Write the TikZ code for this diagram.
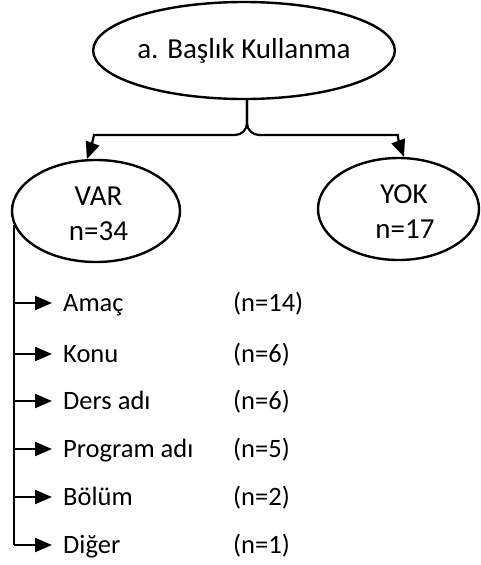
\documentclass[tikz,border=0pt]{standalone}
\usepackage{fontspec}
\setmainfont{Carlito}
\usetikzlibrary{shapes.geometric,arrows.meta}
\tikzset{
  oval/.style={ellipse, draw, line width=2.4pt, inner sep=0pt},
  ovaltext/.style={anchor=base, inner sep=0pt, font=\fontsize{29}{35}\selectfont},
  conn/.style={line width=2.2pt, rounded corners=12pt,
    -{Triangle[length=17pt,width=14pt]}},
  itemarrow/.style={line width=2.2pt, -{Triangle[length=17pt,width=14pt]}},
  stemline/.style={line width=1.5pt},
  itemtext/.style={anchor=west, inner xsep=11pt, inner ysep=0pt,
    text height=17pt, text depth=0pt, font=\fontsize{26.5}{32}\selectfont},
  counttext/.style={anchor=west, inner sep=0pt,
    text height=17pt, text depth=0pt, font=\fontsize{26.5}{32}\selectfont},
}
\begin{document}
\begin{tikzpicture}[x=1pt,y=-1pt]
\useasboundingbox[fill=white] (0,0) rectangle (480,565);

\node[oval, minimum width=272pt, minimum height=97pt, align=center,
  font=\fontsize{29}{35}\selectfont] (top) at (244,50.5) {a. Başlık Kullanma};
\node[oval, minimum width=168pt, minimum height=102pt] (var) at (96,211) {};
\node[oval, minimum width=161pt, minimum height=102pt] (yok) at (398.5,209) {};

\node[ovaltext] (var1) at (98.5,205) {VAR};
\node[ovaltext] (var2) at (98.5,240) {n=34};
\node[ovaltext] (yok1) at (404,203) {YOK};
\node[ovaltext] (yok2) at (405,238) {n=17};

\coordinate (stem) at (247,99);
\coordinate (j) at (247,135);
\coordinate (jl) at (106,135);
\coordinate (jr) at (386,135);
\draw[conn] (stem) -- (j) -- (jl) to[out=180,in=70] (var.100);
\draw[conn] (stem) -- (j) -- (jr) to[out=0,in=110] (yok.84);

\node[itemtext] (a1) at (52,303) {Amaç};
\node[itemtext] (a2) at (52,354) {Konu};
\node[itemtext] (a3) at (52,401) {Ders adı};
\node[itemtext] (a4) at (52,449) {Program adı};
\node[itemtext] (a5) at (52,497) {Bölüm};
\node[itemtext] (a6) at (52,545) {Diğer};

\node[counttext] (c1) at (233,303) {(n=14)};
\node[counttext] (c2) at (233,354) {(n=6)};
\node[counttext] (c3) at (233,401) {(n=6)};
\node[counttext] (c4) at (233,449) {(n=5)};
\node[counttext] (c5) at (233,497) {(n=2)};
\node[counttext] (c6) at (233,545) {(n=1)};

\draw[stemline] (var.190) -- (var.190 |- a6);
\foreach \i in {1,...,6}{
  \draw[itemarrow] (var.190 |- a\i) -- (a\i.west);
}
\end{tikzpicture}
\end{document}
